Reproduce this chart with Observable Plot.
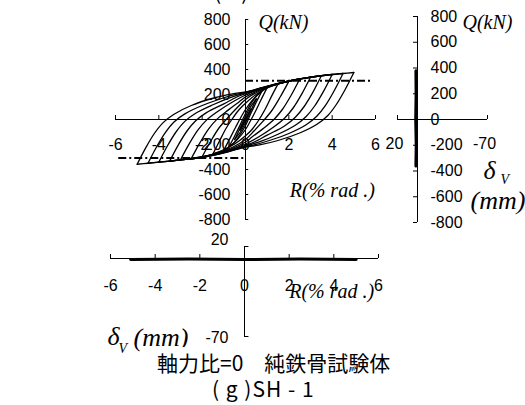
<!DOCTYPE html>
<html><head><meta charset="utf-8">
<script src="https://cdn.jsdelivr.net/npm/d3@7"></script>
<script src="https://cdn.jsdelivr.net/npm/@observablehq/plot@0.6"></script>
<style>
body{margin:0;background:#fff;}
#wrap{position:relative;width:525px;height:405px;overflow:hidden;background:#fff;}
#wrap svg{position:absolute;left:0;top:0;}
.cap{position:absolute;font-family:"Noto Sans CJK JP",sans-serif;font-size:21px;line-height:30px;color:#000;white-space:nowrap;}
</style></head><body><div id="wrap"></div>
<script>
// ---- data ----
const xTicks = [-6, -4, -2, 0, 2, 4, 6];                 // R (% rad.)
const qTicks = [-800, -600, -400, -200, 0, 200, 400, 600, 800]; // Q (kN)
const dvEnds = [20, -70];                                // δv axis ends (mm)
const yieldLoadPos = 310, yieldLoadNeg = -307;           // dash-dot reference lines (kN)
const cycleAmplitudes = [0.25, 0.5, 0.75, 1, 1.5, 2, 2.5, 3, 3.5, 4, 4.5, 5];
// [R, Q] control points, branch from negative peak to positive peak
const ascendingBranches = [
  [[-0.25,-85],[-0.1,-32],[0,6],[0.12,45],[0.25,85]],
  [[-0.5,-160],[-0.3,-88],[-0.1,-12],[0,25],[0.2,92],[0.5,165]],
  [[-0.75,-215],[-0.5,-132],[-0.25,-45],[0,48],[0.3,140],[0.55,195],[0.75,225]],
  [[-1,-245],[-0.7,-145],[-0.45,-60],[-0.2,22],[0,80],[0.4,170],[0.75,226],[1,255]],
  [[-1.5,-275],[-1.2,-172],[-0.9,-72],[-0.6,8],[-0.3,78],[0,130],[0.5,202],[1,252],[1.5,285]],
  [[-2,-298],[-1.6,-172],[-1.2,-62],[-0.8,18],[-0.4,92],[0,160],[0.6,224],[1.2,268],[1.6,290],[2,305]],
  [[-2.5,-312],[-2.1,-185],[-1.7,-75],[-1.3,5],[-0.8,75],[-0.3,140],[0,180],[0.7,238],[1.4,280],[2,308],[2.5,322]],
  [[-3,-323],[-2.6,-195],[-2.2,-85],[-1.8,-5],[-1.3,62],[-0.6,140],[0,196],[0.8,250],[1.6,290],[2.3,318],[3,338]],
  [[-3.5,-333],[-3.1,-203],[-2.7,-92],[-2.3,-10],[-1.8,55],[-1,125],[-0.4,180],[0,206],[0.8,252],[1.6,290],[2.3,318],[3,338],[3.5,350]],
  [[-4,-341],[-3.6,-210],[-3.2,-98],[-2.8,-15],[-2.3,50],[-1.5,118],[-0.7,175],[0,212],[0.8,254],[1.6,291],[2.3,318],[3,338],[3.5,350],[4,360]],
  [[-4.5,-350],[-4.1,-218],[-3.7,-105],[-3.3,-20],[-2.8,45],[-2,112],[-1.1,168],[-0.4,203],[0,216],[0.8,255],[1.6,291],[2.3,318],[3,338],[3.5,350],[4,360],[4.5,368]],
  [[-5,-358],[-4.6,-225],[-4.2,-110],[-3.8,-25],[-3.3,42],[-2.5,112],[-1.5,170],[-0.6,205],[0,221],[0.8,256],[1.6,292],[2.3,318],[3,338],[3.5,350],[4,360],[4.5,368],[5,376]]
];
// [R, Q] control points, branch from positive peak to negative peak
const descendingBranches = [
  [[0.25,85],[0.1,32],[0,-6],[-0.12,-45],[-0.25,-85]],
  [[0.5,165],[0.3,90],[0.1,12],[0,-25],[-0.2,-90],[-0.5,-160]],
  [[0.75,225],[0.5,140],[0.25,50],[0,-48],[-0.3,-135],[-0.55,-190],[-0.75,-215]],
  [[1,255],[0.7,152],[0.45,62],[0.2,-20],[0,-80],[-0.4,-165],[-0.75,-218],[-1,-245]],
  [[1.5,285],[1.2,185],[0.9,80],[0.6,-8],[0.3,-80],[0,-130],[-0.5,-196],[-1,-240],[-1.5,-275]],
  [[2,305],[1.6,180],[1.2,68],[0.8,-15],[0.4,-90],[0,-160],[-0.6,-222],[-1.2,-262],[-1.6,-283],[-2,-298]],
  [[2.5,322],[2.1,192],[1.7,80],[1.3,-2],[0.8,-75],[0.3,-140],[0,-180],[-0.7,-238],[-1.4,-272],[-2,-298],[-2.5,-312]],
  [[3,338],[2.6,205],[2.2,92],[1.8,10],[1.3,-60],[0.6,-140],[0,-196],[-0.8,-248],[-1.6,-285],[-2.3,-308],[-3,-323]],
  [[3.5,350],[3.1,215],[2.7,102],[2.3,18],[1.8,-52],[1,-125],[0.4,-180],[0,-206],[-0.8,-252],[-1.6,-287],[-2.3,-310],[-3,-323],[-3.5,-333]],
  [[4,360],[3.6,225],[3.2,110],[2.8,24],[2.3,-46],[1.5,-118],[0.7,-175],[0,-212],[-0.8,-254],[-1.6,-288],[-2.3,-310],[-3,-323],[-3.5,-333],[-4,-341]],
  [[4.5,368],[4.1,232],[3.7,115],[3.3,28],[2.8,-42],[2,-112],[1.1,-168],[0.4,-203],[0,-216],[-0.8,-256],[-1.6,-289],[-2.3,-310],[-3,-323],[-3.5,-333],[-4,-341],[-4.5,-350]],
  [[5,376],[4.6,240],[4.2,122],[3.8,32],[3.3,-38],[2.5,-108],[1.5,-168],[0.6,-205],[0,-220],[-0.8,-258],[-1.6,-290],[-2.3,-311],[-3,-323],[-3.5,-333],[-4,-341],[-4.5,-350],[-5,-358]]
];
// Q vs δv (right panel)
const dvRightQ = [-362, -200, 0, 200, 378];
const dvRightVal = [1.6, 1.3, 1.8, 1.4, 1.6];
// δv vs R (bottom panel)
const rBottom = [-5.1, -2.5, 0, 2.5, 5.0];
const dvBottom = [7, 7.4, 7, 7.4, 7];
const dvAxisCross = 8;

// ---- build tables ----
const loopRows = [];
ascendingBranches.forEach((b, i) => b.forEach(([R, Q]) => loopRows.push({id: "up" + cycleAmplitudes[i], R, Q})));
descendingBranches.forEach((b, i) => b.forEach(([R, Q]) => loopRows.push({id: "dn" + cycleAmplitudes[i], R, Q})));
const rightRows = dvRightQ.map((Q, i) => ({Q, dv: dvRightVal[i]}));
const bottomRows = rBottom.map((R, i) => ({R, dv: dvBottom[i]}));

const sans = "Liberation Sans, Arial, sans-serif";
const serif = "Liberation Serif, Times New Roman, serif";
const c = v => () => v;
const st = {background: "transparent", overflow: "visible"};
const tick = {fontSize: 16, fontFamily: sans, fill: "#000"};
const ital = {fontStyle: "italic", fontFamily: serif, fill: "#000", textAnchor: "start"};
const wrap = document.getElementById("wrap");

// ---- main panel: Q vs R ----
wrap.appendChild(Plot.plot({
  width: 525, height: 405, marginLeft: 115, marginRight: 150, marginTop: 19, marginBottom: 186,
  x: {domain: [-6, 6], axis: null}, y: {domain: [-800, 800], axis: null}, style: st,
  marks: [
    Plot.text(qTicks, {x: c(0), y: d => d, text: d => String(d), textAnchor: "end", dx: -15, ...tick}),
    Plot.text(xTicks, {x: d => d, y: c(0), text: d => String(d), dy: 25, ...tick}),
    Plot.text(["Q(kN)"], {x: c(0), y: c(800), text: d => d, dx: 13, dy: 3, fontSize: 20, ...ital}),
    Plot.text(["R(% rad .)"], {x: c(2), y: c(0), text: d => d, dx: 1, dy: 71, fontSize: 20, ...ital}),
    Plot.ruleY([0], {x1: c(-6), x2: c(6), stroke: "#000"}),
    Plot.ruleX([0], {y1: c(-800), y2: c(800), stroke: "#000"}),
    Plot.ruleX(xTicks, {y1: c(0), y2: c(32), stroke: "#000"}),
    Plot.ruleY(qTicks, {x1: c(0), x2: c(0.15), stroke: "#000"}),
    Plot.line(loopRows, {x: "R", y: "Q", z: "id", curve: "catmull-rom", stroke: "#000", strokeWidth: 1.3}),
    Plot.ruleY([yieldLoadPos], {x1: c(0), x2: c(5.9), stroke: "#000", strokeWidth: 2, strokeDasharray: "8,3,2,3"}),
    Plot.ruleY([yieldLoadNeg], {x1: c(-5.85), x2: c(0), stroke: "#000", strokeWidth: 2, strokeDasharray: "8,3,2,3"})
  ]
}));

// ---- right panel: Q vs δv ----
wrap.appendChild(Plot.plot({
  width: 525, height: 405, marginLeft: 397, marginRight: 38, marginTop: 16, marginBottom: 183,
  x: {domain: [20, -70], axis: null}, y: {domain: [-800, 800], axis: null}, style: st,
  marks: [
    Plot.text(qTicks, {x: c(0), y: d => d, text: d => String(d), textAnchor: "start", dx: 13, ...tick}),
    Plot.text(dvEnds, {x: d => d, y: c(0), text: d => String(d), dx: -3, dy: 24, ...tick}),
    Plot.text(["Q(kN)"], {x: c(0), y: c(800), text: d => d, dx: 45, dy: 6, fontSize: 20, ...ital}),
    Plot.text(["δ"], {x: c(0), y: c(0), text: d => d, dx: 66, dy: 51, fontSize: 26, ...ital}),
    Plot.text(["V"], {x: c(0), y: c(0), text: d => d, dx: 83, dy: 60, fontSize: 14, ...ital}),
    Plot.text(["(mm)"], {x: c(0), y: c(0), text: d => d, dx: 53, dy: 81, fontSize: 26, ...ital}),
    Plot.ruleX([0], {y1: c(-800), y2: c(800), stroke: "#000"}),
    Plot.ruleY([0], {x1: c(20), x2: c(-70), stroke: "#000"}),
    Plot.ruleY(qTicks, {x1: c(0), x2: c(4), stroke: "#000"}),
    Plot.ruleX(dvEnds, {y1: c(0), y2: c(31), stroke: "#000"}),
    Plot.line(rightRows, {x: "dv", y: "Q", stroke: "#000", strokeWidth: 3})
  ]
}));

// ---- bottom panel: δv vs R ----
wrap.appendChild(Plot.plot({
  width: 525, height: 405, marginLeft: 110, marginRight: 147, marginTop: 246, marginBottom: 69,
  x: {domain: [-6, 6], axis: null}, y: {domain: [-70, 20], axis: null}, style: st,
  marks: [
    Plot.text(xTicks, {x: d => d, y: c(dvAxisCross), text: d => String(d), dy: 27, ...tick}),
    Plot.text([dvEnds[0]], {x: c(0), y: d => d, text: d => String(d), textAnchor: "end", dx: -16, dy: -7, ...tick}),
    Plot.text([dvEnds[1]], {x: c(0), y: d => d, text: d => String(d), textAnchor: "end", dx: -16, dy: 1, ...tick}),
    Plot.text(["R(% rad .)"], {x: c(2), y: c(dvAxisCross), text: d => d, dx: 0, dy: 33, fontSize: 20, ...ital}),
    Plot.text(["δ"], {x: c(0), y: c(-70), text: d => d, dx: -137, dy: 0, fontSize: 26, ...ital}),
    Plot.text(["V"], {x: c(0), y: c(-70), text: d => d, dx: -126, dy: 12, fontSize: 14, ...ital}),
    Plot.text(["(mm)"], {x: c(0), y: c(-70), text: d => d, dx: -111, dy: 1, fontSize: 26, ...ital}),
    Plot.ruleY([dvAxisCross], {x1: c(-6), x2: c(6), stroke: "#000"}),
    Plot.ruleX([0], {y1: c(-70), y2: c(20), stroke: "#000"}),
    Plot.ruleX(xTicks, {y1: c(dvAxisCross), y2: c(dvAxisCross + 4), stroke: "#000"}),
    Plot.ruleY(dvEnds, {x1: c(0), x2: c(0.2), stroke: "#000"}),
    Plot.line(bottomRows, {x: "R", y: "dv", stroke: "#000", strokeWidth: 3})
  ]
}));

// ---- captions ----
function cap(text, left, top, bg, ls) {
  const d = document.createElement("div");
  d.className = "cap";
  d.textContent = text;
  d.style.left = left + "px";
  d.style.top = top + "px";
  if (ls) d.style.letterSpacing = ls;
  if (bg) { d.style.background = "#fff"; d.style.paddingLeft = "7px"; d.style.paddingRight = "6px"; }
  wrap.appendChild(d);
}
cap("( f )", 214, -24, false, "1px");
cap("軸力比=0　純鉄骨試験体", 150, 347, true);
cap("( g )SH - 1", 212, 373, false, "1px");
</script></body></html>
